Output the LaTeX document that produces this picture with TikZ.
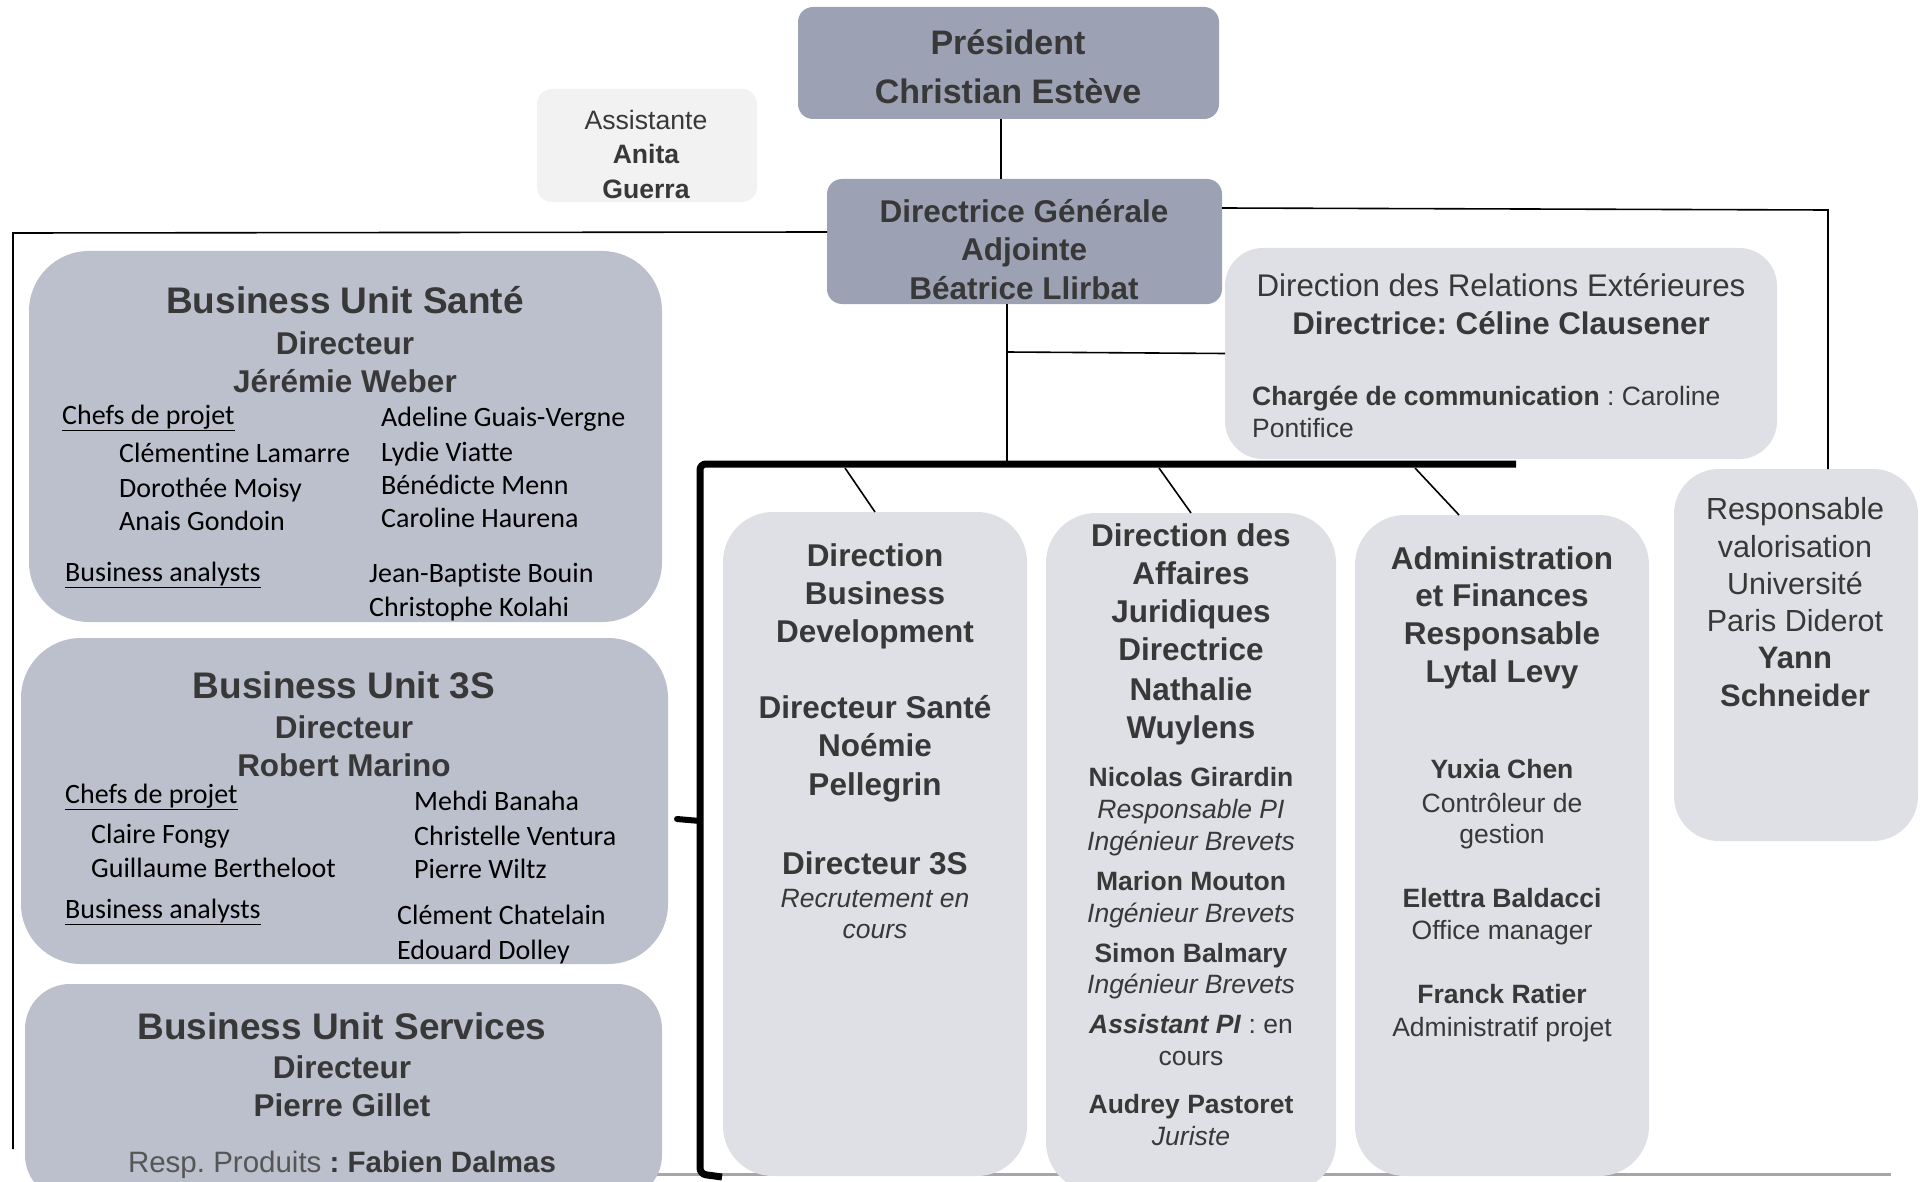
\documentclass[tikz,border=0pt]{standalone}
\usepackage{fontspec}
\setmainfont{Liberation Sans}
\newfontfamily\calfont[Ligatures=NoCommon]{Carlito}
\definecolor{presfill}{HTML}{9CA2B3}
\definecolor{bufill}{HTML}{BBC0CC}
\definecolor{lightfill}{HTML}{DFE0E5}
\definecolor{asstfill}{HTML}{F2F2F2}
\definecolor{txt}{HTML}{383838}
\newcommand\mklines[4]{\foreach \tx/\yy [count=\ii] in {#4} {\node[#1] (#2\ii) at (#3,\yy) {\tx};}}
\frenchspacing
\begin{document}
\frenchspacing
\begin{tikzpicture}[x=1pt,y=-1pt,
  box/.style={inner sep=0pt, outer sep=0pt, draw=none},
  tx/.style={inner sep=0pt, anchor=base, text=txt},
  pres/.style={tx, font=\fontsize{34}{34}\selectfont\bfseries, yshift=-12pt},
  hdbig/.style={tx, font=\fontsize{37}{37}\selectfont\bfseries, yshift=-13pt},
  hd/.style={tx, font=\fontsize{31.5}{31.5}\selectfont\bfseries, yshift=-11pt},
  rg/.style={tx, font=\fontsize{31}{31}\selectfont, yshift=-11pt},
  bd/.style={tx, font=\fontsize{31}{31}\selectfont\bfseries, yshift=-11pt},
  sm/.style={tx, font=\fontsize{26.5}{26.5}\selectfont, yshift=-9.3pt},
  smb/.style={tx, font=\fontsize{26.5}{26.5}\selectfont\bfseries, yshift=-9.3pt},
  smi/.style={tx, font=\fontsize{26.5}{26.5}\selectfont\itshape, yshift=-9.3pt},
  cal/.style={inner sep=0pt, anchor=base west, text=black, font=\fontsize{28}{28}\selectfont\calfont, yshift=-9pt},
  conn/.style={draw=black, line width=1.6pt},
  thickbar/.style={draw=black, line width=7pt}
]
\path[use as bounding box, fill=white] (0,0) rectangle (1921,1182);

% gray bottom line (behind boxes)
\coordinate (g1) at (650,1174);
\coordinate (g2) at (1891,1174);
\draw[draw=black!35, line width=3pt] (g1) -- (g2);

% boxes
\node[box, fill=presfill, rounded corners=15pt, minimum width=421pt, minimum height=112pt] (pres) at (1008.5,63) {};
\node[box, fill=asstfill, rounded corners=15pt, minimum width=220pt, minimum height=113pt] (asst) at (647,145.5) {};
\node[box, fill=presfill, rounded corners=15pt, minimum width=395pt, minimum height=125pt] (dga) at (1024.5,241.5) {};
\node[box, fill=lightfill, rounded corners=38pt, minimum width=552pt, minimum height=211pt] (rel) at (1501,353.5) {};
\node[box, fill=lightfill, rounded corners=50pt, minimum width=304pt, minimum height=664pt] (dbd) at (875,844) {};
\node[box, fill=lightfill, rounded corners=50pt, minimum width=290pt, minimum height=679pt] (daj) at (1191,852.5) {};
\node[box, fill=lightfill, rounded corners=50pt, minimum width=294pt, minimum height=661pt] (adm) at (1502,845.5) {};
\node[box, fill=lightfill, rounded corners=45pt, minimum width=244pt, minimum height=372pt] (resp) at (1796,655) {};
\node[box, fill=bufill, rounded corners=60pt, minimum width=633pt, minimum height=371pt] (bus) at (345.5,436.5) {};
\node[box, fill=bufill, rounded corners=60pt, minimum width=647pt, minimum height=326pt] (bu3) at (344.5,801) {};
\node[box, fill=bufill, rounded corners=45pt, minimum width=637pt, minimum height=216pt] (buv) at (343.5,1092) {};

% connectors
\draw[conn] ([xshift=-7.5pt]pres.south) -- ([xshift=-7.5pt]pres.south |- dga.north);
\coordinate (c1) at (1828,210);
\draw[conn] ([yshift=33.5pt]dga.east) -- (c1) -- ([xshift=32pt]resp.north);
\coordinate (l1) at (13,233);
\coordinate (l2) at (13,1149);
\draw[conn] ([yshift=9.5pt]dga.west) -- (l1) -- (l2);
\coordinate (j) at (1007,464);
\coordinate (k) at (1007,352);
\draw[conn] ([xshift=-17.5pt]dga.south) -- (j);
\draw[conn] (k) -- (rel.west);

% thick bracket
\coordinate (br) at (1516,464);
\coordinate (bl) at (700,464);
\coordinate (bb) at (700,1174);
\coordinate (be) at (722,1177);
\coordinate (nub) at (677,819);
\coordinate (nubr) at (700,821);
\draw[thickbar, rounded corners=6pt] (br) -- (bl) -- (bb) -- (be);
\draw[thickbar, line cap=round, line width=6pt] (nubr) -- (nub);

% diagonals
\coordinate (d1) at (845,468);
\coordinate (d2) at (1159,468);
\coordinate (d3) at (1415,468);
\draw[conn] (d1) -- (dbd.north);
\draw[conn] (d2) -- (daj.north);
\draw[conn] (d3) -- ([xshift=-43pt]adm.north);

% texts: top
\mklines{pres}{prest}{1008}{Président/43, Christian Estève/92}
\node[sm, font=\fontsize{26.6}{26.6}\selectfont] (asst1) at (646,120) {Assistante};
\mklines{smb, font=\fontsize{26.6}{26.6}\selectfont\bfseries}{asstb}{646}{Anita/154, Guerra/189}
\mklines{hd}{dgat}{1024}{Directrice Générale/212, Adjointe/250, Béatrice Llirbat/288}

% relations
\node[rg, font=\fontsize{31.3}{31.3}\selectfont] (rel1) at (1501,285) {Direction des Relations Extérieures};
\node[bd, font=\fontsize{31.3}{31.3}\selectfont\bfseries] (rel2) at (1501,323) {Directrice: Céline Clausener};
\node[sm, anchor=base west] (rel3) at (1252,396) {\textbf{Chargée de communication} : Caroline};
\node[sm, anchor=base west] (rel4) at (1252,428) {Pontifice};

% Direction Business Development
\mklines{hd}{dbdt}{875}{Direction/555, Business/593, Development/631, Directeur Santé/707, Noémie/745, Pellegrin/784, Directeur 3S/863}
\mklines{smi}{dbdi}{875}{Recrutement en/898, cours/929}

% Affaires Juridiques
\mklines{hd}{dajt}{1191}{Direction des/535, Affaires/573, Juridiques/611, Directrice/649, Nathalie/689, Wuylens/727}
\mklines{smb}{dajb}{1191}{Nicolas Girardin/777, Marion Mouton/881, Simon Balmary/953, Audrey Pastoret/1104}
\mklines{smi}{daji}{1191}{Responsable PI/809, Ingénieur Brevets/841, Ingénieur Brevets/913, Ingénieur Brevets/984, Juriste/1136}
\node[sm] (dajs1) at (1191,1024) {\textbf{\textit{Assistant PI}} : en};
\node[sm] (dajs2) at (1191,1056) {cours};

% Administration et Finances
\mklines{hd}{admt}{1502}{Administration/558, et Finances/595, Responsable/633, Lytal Levy/671}
\mklines{smb}{admb}{1502}{Yuxia Chen/769, Elettra Baldacci/898, Franck Ratier/994}
\mklines{sm}{adms}{1502}{Contrôleur de/803, gestion/834, Office manager/930, Administratif projet/1027}

% Responsable valorisation
\mklines{rg, font=\fontsize{30.5}{30.5}\selectfont}{respr}{1795}{Responsable/508, valorisation/546, Université/583, Paris Diderot/620}
\mklines{bd}{respb}{1795}{Yann/657, Schneider/695}

% BU Santé
\node[hdbig] (bus1) at (345,300) {Business Unit Santé};
\mklines{hd}{bust}{345}{Directeur/343, Jérémie Weber/381}
\node[cal] (busc1) at (62,415) {\underline{Chefs de projet}};
\node[cal] (busc2) at (65,572) {\underline{Business analysts}};
\mklines{cal}{busa}{119}{Clémentine Lamarre/453, Dorothée Moisy/488, Anais Gondoin/521}
\mklines{cal}{busb}{381}{Adeline Guais-Vergne/417, Lydie Viatte/452, Bénédicte Menn/485, Caroline Haurena/518}
\mklines{cal}{busd}{369}{Jean-Baptiste Bouin/573, Christophe Kolahi/607}

% BU 3S
\node[hdbig] (bu31) at (344,685) {Business Unit 3S};
\mklines{hd}{bu3t}{344}{Directeur/727, Robert Marino/765}
\node[cal] (bu3c1) at (65,794) {\underline{Chefs de projet}};
\node[cal] (bu3c2) at (65,909) {\underline{Business analysts}};
\mklines{cal}{bu3a}{91}{Claire Fongy/834, Guillaume Bertheloot/868}
\mklines{cal}{bu3b}{414}{Mehdi Banaha/801, Christelle Ventura/836, Pierre Wiltz/869}
\mklines{cal}{bu3d}{397}{Clément Chatelain/915, Edouard Dolley/950}

% BU Services
\node[hdbig] (buv1) at (342,1026) {Business Unit Services};
\mklines{hd}{buvt}{342}{Directeur/1067, Pierre Gillet/1105}
\node[tx, font=\fontsize{29.5}{29.5}\selectfont, yshift=-10.5pt] (buv4) at (342,1162) {\color{txt!85}Resp. Produits \textbf{\color{txt}: Fabien Dalmas}};
\end{tikzpicture}
\end{document}
